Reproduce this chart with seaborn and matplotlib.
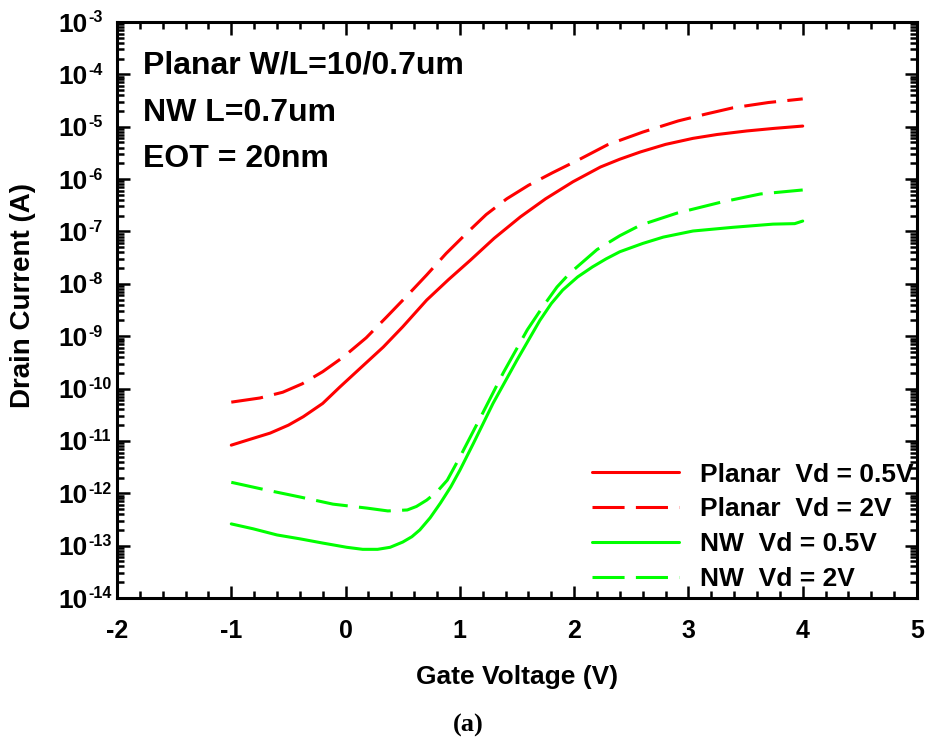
import matplotlib
matplotlib.use("Agg")
import matplotlib.pyplot as plt
import matplotlib.transforms as mtransforms
import seaborn as sns
import pandas as pd
from matplotlib.ticker import LogLocator, MultipleLocator, FixedLocator, NullFormatter

# ---------------- data ----------------
planar05_vg = [-1.0, -0.85, -0.66, -0.5, -0.37, -0.2, -0.05, 0.15, 0.33, 0.5, 0.71, 0.9, 1.09,
               1.3, 1.53, 1.75, 1.99, 2.23, 2.4, 2.58, 2.8, 3.04, 3.25, 3.51, 3.75, 4.0]
planar05_id = [8.3e-12, 1.05e-11, 1.41e-11, 2.0e-11, 2.9e-11, 5.2e-11, 1.07e-10, 2.7e-10,
               6.2e-10, 1.51e-9, 4.9e-9, 1.2e-8, 2.8e-8, 7.4e-8, 1.9e-7, 4.2e-7, 8.9e-7,
               1.7e-6, 2.4e-6, 3.3e-6, 4.6e-6, 6.0e-6, 7.1e-6, 8.3e-6, 9.3e-6, 1.03e-5]

planar2_vg = [-1.0, -0.75, -0.55, -0.38, -0.2, -0.02, 0.18, 0.36, 0.55, 0.71, 0.88, 1.06, 1.23,
              1.41, 1.6, 1.81, 2.05, 2.29, 2.6, 2.91, 3.15, 3.39, 3.7, 4.0]
planar2_id = [5.5e-11, 6.6e-11, 8.5e-11, 1.23e-10, 2.1e-10, 4.0e-10, 9.3e-10, 2.34e-9, 6.3e-9,
              1.48e-8, 3.8e-8, 9.3e-8, 2.1e-7, 4.2e-7, 7.6e-7, 1.32e-6, 2.4e-6, 4.5e-6,
              7.9e-6, 1.29e-5, 1.74e-5, 2.3e-5, 2.9e-5, 3.4e-5]

nw05_vg = [-1.0, -0.81, -0.6, -0.4, -0.2, 0.01, 0.15, 0.28, 0.39, 0.5, 0.58, 0.65, 0.74, 0.83,
           0.92, 1.0, 1.12, 1.29, 1.5, 1.7, 1.8, 1.9, 2.03, 2.16, 2.28, 2.4, 2.6, 2.78, 3.04,
           3.39, 3.74, 3.93, 4.0]
nw05_id = [2.6e-13, 2.1e-13, 1.6e-13, 1.35e-13, 1.12e-13, 9.3e-14, 8.5e-14, 8.5e-14, 9.3e-14,
           1.17e-13, 1.48e-13, 2.0e-13, 3.4e-13, 6.5e-13, 1.32e-12, 2.75e-12, 9.1e-12, 5.2e-11,
           3.5e-10, 2.0e-9, 4.2e-9, 7.6e-9, 1.35e-8, 2.1e-8, 3.0e-8, 4.1e-8, 5.9e-8, 7.8e-8,
           1.02e-7, 1.2e-7, 1.38e-7, 1.41e-7, 1.58e-7]

nw2_vg = [-1.0, -0.69, -0.4, -0.11, 0.19, 0.37, 0.54, 0.62, 0.71, 0.8, 0.89, 1.0, 1.2, 1.38,
          1.59, 1.72, 1.85, 1.96, 2.2, 2.4, 2.58, 2.9, 3.28, 3.63, 4.0]
nw2_id = [1.62e-12, 1.15e-12, 8.5e-13, 6.2e-13, 5.2e-13, 4.6e-13, 4.8e-13, 5.6e-13, 7.4e-13,
          1.07e-12, 1.78e-12, 4.9e-12, 3.4e-11, 2.0e-10, 1.32e-9, 3.5e-9, 8.7e-9, 1.58e-8,
          4.5e-8, 8.3e-8, 1.32e-7, 2.24e-7, 3.6e-7, 5.2e-7, 6.2e-7]

series_labels = ["Planar  Vd = 0.5V", "Planar  Vd = 2V", "NW  Vd = 0.5V", "NW  Vd = 2V"]
series_colors = ["#FF0000", "#FF0000", "#00FF00", "#00FF00"]
series_dashed = [False, True, False, True]

x_ticks = [-2, -1, 0, 1, 2, 3, 4, 5]
y_exponents = list(range(-14, -2))

annotations = ["Planar W/L=10/0.7um", "NW L=0.7um", "EOT = 20nm"]

# ---------------- style ----------------
sns.set_style("ticks")
plt.rcParams['font.family'] = ['Liberation Sans', 'DejaVu Sans']
plt.rcParams['font.weight'] = 'bold'
plt.rcParams['axes.unicode_minus'] = False
for k in ['text.color', 'axes.labelcolor', 'xtick.color', 'ytick.color', 'axes.edgecolor']:
    plt.rcParams[k] = 'black'

fig = plt.figure(figsize=(9.28, 7.52), dpi=100)
ax = fig.add_axes([117/928, 1-598/752, 800/928, 576/752])

all_x = [planar05_vg, planar2_vg, nw05_vg, nw2_vg]
all_y = [planar05_id, planar2_id, nw05_id, nw2_id]
for xs, ys, lab, col, dsh in zip(all_x, all_y, series_labels, series_colors, series_dashed):
    df = pd.DataFrame({"Vg": xs, "Id": ys})
    ls = (0, (10.5, 3.7)) if dsh else "-"
    sns.lineplot(data=df, x="Vg", y="Id", ax=ax, color=col, linewidth=2.2,
                 linestyle=ls, label=lab, sort=False, estimator=None)

ax.set_yscale("log")
ax.set_xlim(-2, 5)
ax.set_ylim(1e-14, 1e-3)

ax.xaxis.set_major_locator(FixedLocator(x_ticks))
ax.xaxis.set_minor_locator(MultipleLocator(0.2))
ax.set_xticklabels([str(v) for v in x_ticks])
ax.yaxis.set_major_locator(FixedLocator([10.0**e for e in y_exponents]))
ax.yaxis.set_minor_locator(LogLocator(base=10, subs=range(2, 10), numticks=100))
ax.yaxis.set_minor_formatter(NullFormatter())
ax.set_yticklabels([])

for sp in ax.spines.values():
    sp.set_linewidth(2.2)
    sp.set_color("black")
ax.tick_params(which="both", direction="in", top=True, right=True, width=1.8, color="black")
ax.tick_params(which="major", length=9)
ax.tick_params(which="minor", length=5)
ax.tick_params(axis="x", which="major", labelsize=18, pad=15, labelcolor="black")
for lab in ax.get_xticklabels():
    lab.set_fontweight("bold")

# y tick labels "10" with superscript exponent (hyphen, as in the reference)
ytrans = ax.get_yaxis_transform()
base_tr = mtransforms.offset_copy(ytrans, fig=fig, x=0, y=-9.5, units="dots")
sup_tr = mtransforms.offset_copy(ytrans, fig=fig, x=0, y=-0.5, units="dots")
for e in y_exponents:
    ax.text((58-117)/800, 10.0**e, "10", transform=base_tr, fontsize=19, fontweight="bold",
            color="black", ha="left", va="baseline", clip_on=False)
    ax.text((88.5-117)/800, 10.0**e, "-%d" % (-e), transform=sup_tr, fontsize=11.5,
            fontweight="bold", color="black", ha="left", va="baseline", clip_on=False)

ax.set_xlabel("Gate Voltage (V)", fontsize=19, fontweight="bold", color="black")
ax.xaxis.label.set_va("center")
ax.xaxis.set_label_coords(0.5, -(677-598)/576)
ax.set_ylabel("Drain Current (A)", fontsize=20, fontweight="bold", color="black")
ax.yaxis.label.set_va("center")
ax.yaxis.set_label_coords((23-117)/800, (598-296)/576)

for txt, yy in zip(annotations, [0.925, 0.842, 0.762]):
    ax.text(0.0325, yy, txt, transform=ax.transAxes, fontsize=23, fontweight="bold",
            color="black", va="center", ha="left")

leg = ax.legend(loc="lower left", frameon=False, fontsize=19, handlelength=3.3,
                handletextpad=0.8, labelspacing=0.41, borderpad=0.0, borderaxespad=0.0,
                bbox_to_anchor=((592-117)/800, 0.012))
for t in leg.get_texts():
    t.set_fontweight("bold")
    t.set_color("black")

fig.text(468/928, 1-725/752, "(a)", family=["Liberation Serif", "DejaVu Serif"],
         fontsize=19, fontweight="bold", color="black", ha="center", va="center")

fig.savefig("out.png", dpi=100)
